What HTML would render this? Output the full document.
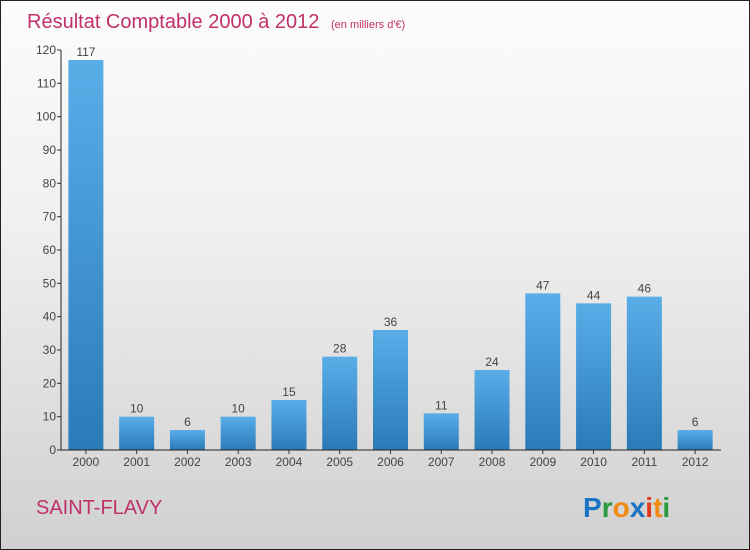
<!DOCTYPE html>
<html><head><meta charset="utf-8"><style>
body{margin:0}
#wrap{position:relative;width:748px;height:548px;border:1px solid #222;background:linear-gradient(#fcfcfc,#f0f0f0 40%,#d0d0d0);font-family:"Liberation Sans",sans-serif;overflow:hidden}
</style></head><body>
<div id="wrap">
<svg id="c" width="748" height="548">
<defs><linearGradient id="g" x1="0" y1="0" x2="0" y2="1"><stop offset="0" stop-color="#5aaee8"/><stop offset="1" stop-color="#2a7ab8"/></linearGradient></defs>
<text x="26" y="27" font-size="20" fill="#c0306a">Résultat Comptable 2000 à 2012 <tspan font-size="11" dx="6">(en milliers d'€)</tspan></text>
<text x="35" y="513" font-size="20" fill="#c0306a">SAINT-FLAVY</text>
<g font-size="28" font-weight="bold" font-family="Liberation Sans, sans-serif">
<text x="582" y="516" fill="#1a73c4">P<tspan fill="#2a9a3a">r</tspan><tspan fill="#f08a10">o</tspan><tspan fill="#1a73c4">x</tspan><tspan fill="#e23a1a">i</tspan><tspan fill="#f08a10">t</tspan><tspan fill="#2a9a3a">i</tspan></text></g>
<g id="plot"></g>
</svg>
</div>
<script>
const categories=["2000","2001","2002","2003","2004","2005","2006","2007","2008","2009","2010","2011","2012"];
const values=[117,10,6,10,15,28,36,11,24,47,44,46,6];
const yTicks=[0,10,20,30,40,50,60,70,80,90,100,110,120];
const ns="http://www.w3.org/2000/svg";
const g=document.getElementById('plot');
const x0=60,x1=720,yb=449,yt=49,ymax=120;
const step=(x1-x0)/categories.length;
const y=v=>yb-(yb-yt)*v/ymax;
const xc=i=>x0+step*(i+0.5)-0.5;
function mk(t,a){const e=document.createElementNS(ns,t);for(const k in a)e.setAttribute(k,a[k]);g.appendChild(e);return e;}
yTicks.forEach(t=>{
 const l=mk('line',{x1:x0-4,x2:x0,y1:y(t),y2:y(t),stroke:'#333'});
 
 
 const tx=mk('text',{x:x0-5,y:y(t)+4,'font-size':12,'text-anchor':'end',fill:'#444'});tx.textContent=t;
 
 
});
values.forEach((v,i)=>{
 const r=mk('rect',{x:xc(i)-17.5,y:y(v),width:35,height:yb-y(v),fill:'url(#g)'});
 
 
 const t=mk('text',{x:xc(i),y:y(v)-4,'font-size':12,'text-anchor':'middle',fill:'#444'});t.textContent=v;
 
 
 const c=mk('text',{x:xc(i),y:yb+16,'font-size':12,'text-anchor':'middle',fill:'#444'});c.textContent=categories[i];
 
 
 const tk=mk('line',{x1:xc(i),x2:xc(i),y1:yb,y2:yb+4,stroke:'#333'});
 
 
});
const ya=mk('line',{x1:x0,x2:x0,y1:yt,y2:yb,stroke:'#222'});


const xa=mk('line',{x1:x0,x2:x1,y1:yb,y2:yb,stroke:'#222'});


</script>
</body></html>
